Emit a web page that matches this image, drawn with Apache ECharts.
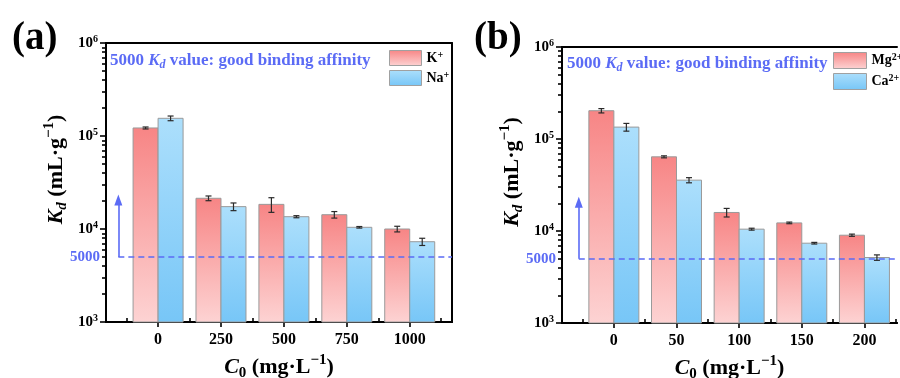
<!DOCTYPE html>
<html>
<head>
<meta charset="UTF-8">
<title>Kd bars</title>
<script src="https://cdn.jsdelivr.net/npm/echarts@6/dist/echarts.min.js"></script>
<style>html,body{margin:0;background:#fff}#main{width:900px;height:378px}</style>
</head>
<body>
<div id="main"></div>
<script>
// data
var catsA = [0, 250, 500, 750, 1000];
var kVal = [122000, 21400, 18400, 14250, 10000];
var kErr = [3000, 1250, 3300, 1150, 700];
var naVal = [155000, 17400, 13560, 10430, 7300];
var naErr = [9000, 1650, 350, 200, 650];

var catsB = [0, 50, 100, 150, 200];
var mgVal = [203000, 64000, 15900, 12250, 9000];
var mgErr = [11000, 1600, 1700, 250, 250];
var caVal = [134700, 35700, 10470, 7370, 5150];
var caErr = [13000, 2300, 250, 150, 350];

var minorA = [-125, 125, 375, 625, 875, 1125];
var minorB = [-25, 25, 75, 125, 175, 225];
var minorMult = [2, 3, 4, 5, 6, 7, 8, 9];
var decades = [1000, 10000, 100000];
var threshold = 5000;
var arrowTop = 20500;

var F = '"Liberation Serif", "Times New Roman", serif';
var BLUE = '#5b6bf5';

var yMinorLog = [];
decades.forEach(function (d) {
    minorMult.forEach(function (m) { yMinorLog.push(Math.log10(m * d)); });
});

function redGrad() {
    return new echarts.graphic.LinearGradient(0, 0, 0, 1, [
        {offset: 0, color: '#f78585'}, {offset: 1, color: '#fdd3d3'}]);
}
function blueGrad() {
    return new echarts.graphic.LinearGradient(0, 0, 0, 1, [
        {offset: 0, color: '#acdffc'}, {offset: 1, color: '#77c6f7'}]);
}

var supRich = {
    b: {fontSize: 15, fontWeight: 'bold', fontFamily: F, color: '#000', lineHeight: 18},
    s: {fontSize: 10, fontWeight: 'bold', fontFamily: F, color: '#000', lineHeight: 10, verticalAlign: 'top'}
};
var titleRich = {
    i: {fontSize: 22, fontWeight: 'bold', fontStyle: 'italic', fontFamily: F, color: '#000', lineHeight: 28},
    b: {fontSize: 22, fontWeight: 'bold', fontFamily: F, color: '#000', lineHeight: 28},
    sub: {fontSize: 15, fontWeight: 'bold', fontStyle: 'italic', fontFamily: F, color: '#000', lineHeight: 16, verticalAlign: 'bottom'},
    sub0: {fontSize: 15, fontWeight: 'bold', fontFamily: F, color: '#000', lineHeight: 16, verticalAlign: 'bottom'},
    sup: {fontSize: 15, fontWeight: 'bold', fontFamily: F, color: '#000', lineHeight: 16, verticalAlign: 'top'}
};
var legendRich = {
    b: {fontSize: 14, fontWeight: 'bold', fontFamily: F, color: '#000', lineHeight: 16},
    s: {fontSize: 10, fontWeight: 'bold', fontFamily: F, color: '#000', lineHeight: 10, verticalAlign: 'top'}
};
var legendNames = {'K+': '{b|K}{s|+}', 'Na+': '{b|Na}{s|+}', 'Mg2+': '{b|Mg}{s|2+}', 'Ca2+': '{b|Ca}{s|2+}'};

function line2() { return {color: '#000', width: 2}; }
function tick() { return {color: '#000', width: 1.6}; }

function xAxes(g, min, max, cats, minor) {
    return [
        {
            type: 'value', gridIndex: g, min: min, max: max, position: 'bottom',
            axisLine: {show: true, onZero: false, lineStyle: line2()},
            axisTick: {show: true, customValues: cats, length: 5, lineStyle: tick()},
            axisLabel: {customValues: cats, formatter: function (v) { return String(v); },
                fontSize: 16, fontWeight: 'bold', fontFamily: F, color: '#000', margin: 10},
            splitLine: {show: false},
            name: '{i|C}{sub0|0}{b| (mg·L}{sup|−1}{b|)}', nameLocation: 'middle', nameGap: 31,
            nameTextStyle: {rich: titleRich}
        },
        {
            type: 'value', gridIndex: g, min: min, max: max, position: 'bottom',
            axisLine: {show: true, onZero: false, lineStyle: line2()},
            axisTick: {show: true, customValues: minor, inside: true, length: 4, lineStyle: tick()},
            axisLabel: {show: false}, splitLine: {show: false}
        },
        {
            type: 'value', gridIndex: g, min: min, max: max, position: 'top',
            axisLine: {show: true, onZero: false, lineStyle: line2()},
            axisTick: {show: false}, axisLabel: {show: false}, splitLine: {show: false}
        }
    ];
}

function yAxes(g) {
    return [
        {
            type: 'log', logBase: 10, gridIndex: g, min: 1000, max: 1000000, position: 'left',
            axisLine: {show: true, onZero: false, lineStyle: line2()},
            axisTick: {show: true, length: 6, lineStyle: tick()},
            axisLabel: {margin: 8, rich: supRich, formatter: function (v) {
                return '{b|10}{s|' + Math.round(Math.log10(v)) + '}';
            }},
            splitLine: {show: false},
            name: '{i|K}{sub|d}{b| (mL·g}{sup|−1}{b|)}', nameLocation: 'middle', nameGap: 36,
            nameTextStyle: {rich: titleRich, padding: [0, 0, 0, 26]}
        },
        {
            type: 'value', gridIndex: g, min: 3, max: 6, position: 'left',
            axisLine: {show: true, onZero: false, lineStyle: line2()},
            axisTick: {show: true, customValues: yMinorLog, length: 4, lineStyle: tick()},
            axisLabel: {customValues: [Math.log10(threshold)], formatter: function () { return String(threshold); },
                color: BLUE, fontSize: 15, fontWeight: 'bold', fontFamily: F, margin: 6},
            splitLine: {show: false}
        }
    ];
}

function barSeries(name, xi, yi, cats, vals, errs, side, grad, markX, maxX) {
    var s = {
        name: name, type: 'custom', xAxisIndex: xi, yAxisIndex: yi,
        dimensions: ['x', 'y', 'e'], encode: {x: 0, y: 1},
        itemStyle: {color: grad},
        data: cats.map(function (c, i) { return [c, vals[i], errs[i]]; }),
        renderItem: function (params, api) {
            var x = api.value(0), y = api.value(1), e = api.value(2);
            var top = api.coord([x, y]);
            var base = api.coord([x, 1000]);
            var w = 25;
            var x0 = side < 0 ? top[0] - w : top[0];
            var cx = x0 + w / 2;
            var hi = api.coord([x, y + e])[1];
            var lo = api.coord([x, y - e])[1];
            var es = {stroke: '#2a2a2a', lineWidth: 1.2};
            return {type: 'group', children: [
                {type: 'rect', shape: {x: x0, y: top[1], width: w, height: base[1] - top[1]},
                    style: {fill: grad, stroke: '#9a9a9a', lineWidth: 1}},
                {type: 'line', shape: {x1: cx, y1: hi, x2: cx, y2: lo}, style: es},
                {type: 'line', shape: {x1: cx - 3, y1: hi, x2: cx + 3, y2: hi}, style: es},
                {type: 'line', shape: {x1: cx - 3, y1: lo, x2: cx + 3, y2: lo}, style: es}
            ]};
        }
    };
    if (markX !== undefined) {
        s.markLine = {
            silent: true, animation: false, symbol: 'none', label: {show: false},
            lineStyle: {color: BLUE, type: [6, 4], width: 1.6},
            data: [
                [{coord: [markX, threshold]}, {coord: [maxX, threshold]}],
                [{coord: [markX, threshold], symbol: 'none', lineStyle: {type: 'solid', color: BLUE, width: 1.6}},
                 {coord: [markX, arrowTop], symbol: 'triangle', symbolSize: [8, 11]}]
            ]
        };
    }
    return s;
}

var annRich = {
    n: {fontSize: 17, fontWeight: 'bold', fontFamily: F, color: BLUE, lineHeight: 20},
    i: {fontSize: 17, fontWeight: 'bold', fontStyle: 'italic', fontFamily: F, color: BLUE, lineHeight: 20},
    sub: {fontSize: 12, fontWeight: 'bold', fontStyle: 'italic', fontFamily: F, color: BLUE, lineHeight: 12, verticalAlign: 'bottom'}
};
var annText = '{n|5000 }{i|K}{sub|d}{n| value: good binding affinity}';

var myChart = echarts.init(document.getElementById('main'));
var option = {
    animation: false,
    grid: [
        {left: 106, top: 43, width: 346, height: 279, outerBoundsMode: 'none'},
        {left: 562, top: 47, width: 335, height: 276, outerBoundsMode: 'none'}
    ],
    xAxis: xAxes(0, -207, 1168, catsA, minorA).concat(xAxes(1, -41.4, 226, catsB, minorB)),
    yAxis: yAxes(0).concat([{
        type: 'value', gridIndex: 0, position: 'right', min: 0, max: 1,
        axisLine: {show: true, onZero: false, lineStyle: line2()},
        axisTick: {show: false}, axisLabel: {show: false}, splitLine: {show: false}
    }]).concat(yAxes(1)),
    legend: [
        {data: ['K+', 'Na+'], left: 389, top: 50, padding: 0, orient: 'vertical', itemWidth: 32, itemHeight: 15, itemGap: 4,
            icon: 'rect', itemStyle: {borderColor: '#a0a0a0', borderWidth: 1}, selectedMode: false,
            formatter: function (n) { return legendNames[n]; }, textStyle: {rich: legendRich}},
        {data: ['Mg2+', 'Ca2+'], left: 833, top: 52, padding: 0, orient: 'vertical', itemWidth: 33, itemHeight: 16, itemGap: 4,
            icon: 'rect', itemStyle: {borderColor: '#a0a0a0', borderWidth: 1}, selectedMode: false,
            formatter: function (n) { return legendNames[n]; }, textStyle: {rich: legendRich}}
    ],
    graphic: [
        {type: 'text', left: 12, top: 19, style: {text: '(a)', font: 'bold 39px ' + F, fill: '#000'}},
        {type: 'text', left: 474, top: 19, style: {text: '(b)', font: 'bold 39px ' + F, fill: '#000'}},
        {type: 'text', left: 110, top: 52, style: {text: annText, rich: annRich, fill: BLUE}},
        {type: 'text', left: 567, top: 55, style: {text: annText, rich: annRich, fill: BLUE}}
    ],
    series: [
        barSeries('K+', 0, 0, catsA, kVal, kErr, -1, redGrad(), -158, 1168),
        barSeries('Na+', 0, 0, catsA, naVal, naErr, 1, blueGrad()),
        barSeries('Mg2+', 3, 3, catsB, mgVal, mgErr, -1, redGrad(), -28, 226),
        barSeries('Ca2+', 3, 3, catsB, caVal, caErr, 1, blueGrad())
    ]
};
myChart.setOption(option);
</script>
</body>
</html>
